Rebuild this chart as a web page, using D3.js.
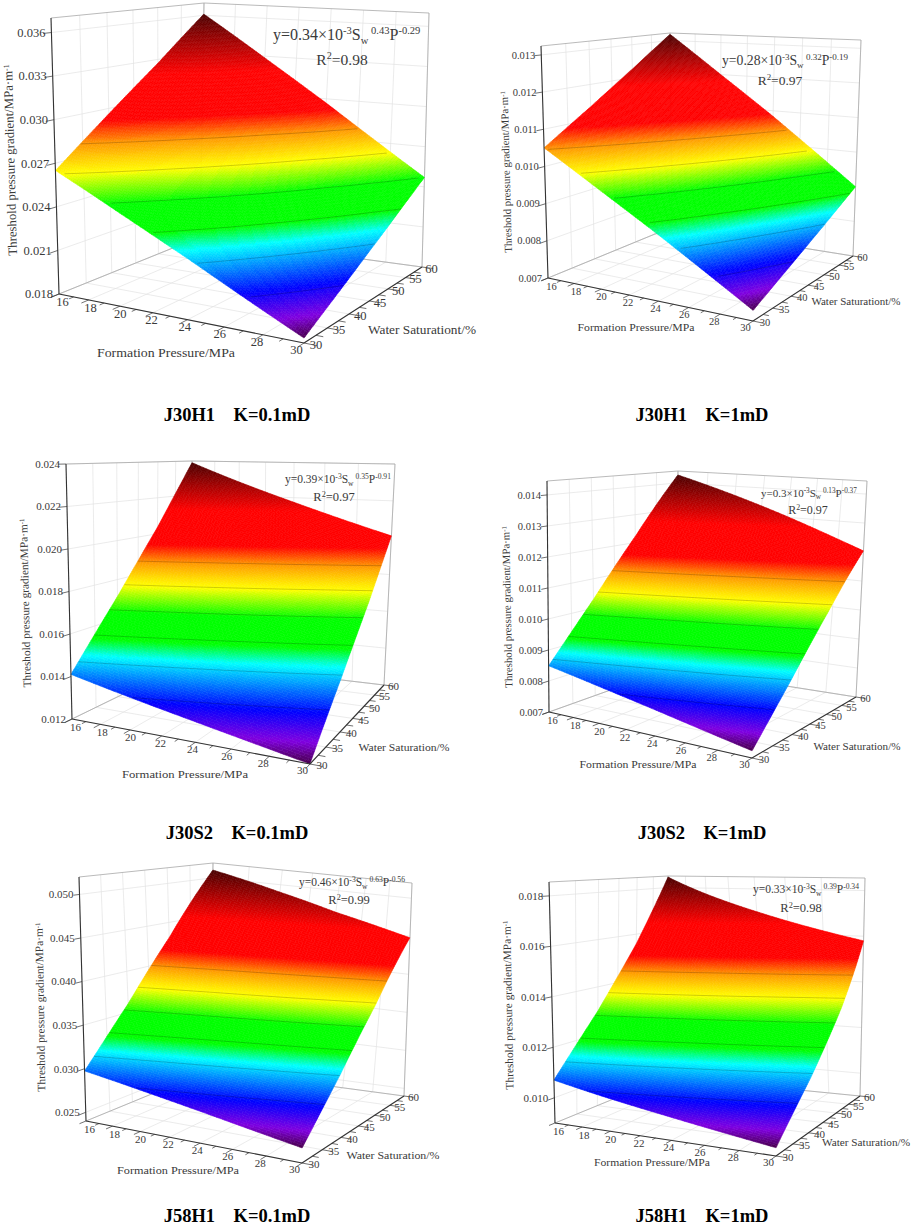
<!DOCTYPE html>
<html><head><meta charset="utf-8">
<script src="https://cdn.jsdelivr.net/npm/d3@7/dist/d3.min.js"></script>
<style>
html,body{margin:0;padding:0;background:#fff}
text{font-family:"Liberation Serif","Times New Roman",serif;fill:#3a3a3a}
.cap{font-weight:bold;fill:#000}
</style></head><body><svg id="c" width="913" height="1225"></svg>
<script>
// ---------- data ----------
const pressureSamples=[16,20,24,30];
const saturationSamples=[30,40,50,60];
const pressureTicks=[16,18,20,22,24,26,28,30];
const saturationTicks=[30,35,40,45,50,55,60];

const surfaceJ30H1_01=[[.0265,.02416,.02187,.0183],[.0296,.02696,.02437,.02035],[.0327,.02978,.02691,.02246],[.0361,.03285,.02966,.0247]];
const surfaceJ30H1_1 =[[.0105,.00957,.00866,.00725],[.01136,.01035,.00935,.00781],[.01226,.01116,.01007,.00839],[.0132,.0120,.01083,.0090]];
const surfaceJ30S2_01=[[.0141,.0135,.01291,.0120],[.01714,.01639,.01565,.01451],[.02037,.01946,.01857,.01718],[.0239,.02282,.02175,.0201]];
const surfaceJ30S2_1 =[[.00849,.00812,.00776,.0072],[.01029,.00984,.00939,.0087],[.01221,.01167,.01113,.0103],[.0143,.01366,.01302,.01204]];
const surfaceJ58H1_01=[[.02974,.02855,.02738,.02556],[.0360,.0346,.0333,.0312],[.0430,.0414,.0399,.0374],[.05105,.0490,.0471,.0448]];
const surfaceJ58H1_1 =[[.0107,.0103,.00991,.0093],[.0130,.01249,.01199,.01122],[.01558,.01495,.01433,.01336],[.0185,.01773,.01697,.0158]];

const zTicks1=[.018,.021,.024,.027,.030,.033,.036];
const zTicks2=[.007,.008,.009,.010,.011,.012,.013];
const zTicks3=[.012,.014,.016,.018,.020,.022,.024];
const zTicks4=[.007,.008,.009,.010,.011,.012,.013,.014];
const zTicks5=[.025,.030,.035,.040,.045,.050];
const zTicks6=[.010,.012,.014,.016,.018];
const zDomains=[[.018,.0370],[.007,.01324],[.012,.024],[.007,.01445],[.024,.052],[.009,.01855]];

const captions=["J30H1\u00a0\u00a0\u00a0\u00a0K=0.1mD","J30H1\u00a0\u00a0\u00a0\u00a0K=1mD","J30S2\u00a0\u00a0\u00a0\u00a0K=0.1mD","J30S2\u00a0\u00a0\u00a0\u00a0K=1mD","J58H1\u00a0\u00a0\u00a0\u00a0K=0.1mD","J58H1\u00a0\u00a0\u00a0\u00a0K=1mD"];
const eqCoef=["0.34","0.28","0.39","0.3","0.46","0.33"];
const eqSw=["0.43","0.32","0.35","0.13","0.63","0.39"];
const eqP=["-0.29","-0.19","-0.91","-0.37","-0.56","-0.34"];
const r2=["0.98","0.97","0.97","0.97","0.99","0.98"];
const waterTitles=["Water Saturationt/%","Water Saturationt/%","Water Saturation/%","Water Saturation/%","Water Saturation/%","Water Saturation/%"];

// colour map of the surface and contour levels (fraction of the surface's range)
const colorStops=[0,.045,.11,.225,.275,.36,.45,.54,.615,.77,1];
const colorRamp=["#48004a","#8000e0","#0000ff","#00ffff","#00ff00","#00ff00","#ffff00","#ff9900","#ff0000","#ff0000","#4a0000"];
const colorShift=[0,0,.025,.015,.025,.025];
const contourLevels=[.10,.19,.275,.36,.45,.54];

// ---------- layout of each panel (screen frame of the 3-D box) ----------
const panels=[
 {s:surfaceJ30H1_01,t:zTicks1,z:zDomains[0],L:[59,294],F:[304,343],R:[422,267],B:[200,237],Lt:[51,18],Ft:[307,30],Rt:[429,13],Bt:[204,3],
  fs:12.5,eq:[273,40,16,150],r:[342,65,15.5],cap:[237,421],xt:[166,353,138],wt:[422,330,108],yt:[10,160,183,-91.5]},
 {s:surfaceJ30H1_1,t:zTicks2,z:zDomains[1],L:[548,278],F:[753,321],R:[853,256],B:[672,227],Lt:[541,46],Ft:[756,56],Rt:[861,40],Bt:[670,33],
  fs:10.5,eq:[722,65,13.7,127],r:[780,85,13.5],cap:[702,421],xt:[636,327,117],wt:[856,301,89],yt:[506,172,163,-91.5]},
 {s:surfaceJ30S2_01,t:zTicks3,z:zDomains[2],L:[72,719],F:[310,764],R:[384,685],B:[189,662],Lt:[66,464],Ft:[313,470],Rt:[395,464],Bt:[192,461],
  fs:11,eq:[285,483,11.5,108],r:[334,501,12.5],cap:[237,839],xt:[185,774,126],wt:[404,747,91],yt:[25,603,173,-91.3]},
 {s:surfaceJ30S2_1,t:zTicks4,z:zDomains[3],L:[549,712],F:[752,758],R:[856,697],B:[672,668],Lt:[547,481],Ft:[755,490],Rt:[867,481],Bt:[678,471],
  fs:10.5,eq:[761,497,11,98],r:[808,514,12],cap:[702,839],xt:[638,764,117],wt:[857,746,87],yt:[507,607,162,-91.2]},
 {s:surfaceJ58H1_01,t:zTicks5,z:zDomains[4],L:[86,1121],F:[302,1163],R:[404,1096],B:[210,1070],Lt:[79,877],Ft:[305,893],Rt:[412,883],Bt:[213,863],
  fs:11,eq:[299,886,11.5,108],r:[349,904,12.5],cap:[237,1222],xt:[178,1170,122],wt:[393,1155,93],yt:[40,1007,172,-90.9]},
 {s:surfaceJ58H1_1,t:zTicks6,z:zDomains[5],L:[555,1123],F:[776,1156],R:[860,1096],B:[667,1077],Lt:[549,882],Ft:[779,895],Rt:[865,878],Bt:[668,876],
  fs:11,eq:[753,893,11.5,105],r:[801,912,12.5],cap:[702,1222],xt:[652,1162,116],wt:[866,1142,88],yt:[508,1005,170,-91.1]}
];

// projective map of the unit square onto a quad
function quadMap(p00,p10,p11,p01){
  const dx1=p10[0]-p11[0],dx2=p01[0]-p11[0],sx=p00[0]-p10[0]+p11[0]-p01[0];
  const dy1=p10[1]-p11[1],dy2=p01[1]-p11[1],sy=p00[1]-p10[1]+p11[1]-p01[1];
  const d=dx1*dy2-dx2*dy1,g=(sx*dy2-dx2*sy)/d,h=(dx1*sy-sx*dy1)/d;
  const a=p10[0]-p00[0]+g*p10[0],b=p01[0]-p00[0]+h*p01[0],c=p00[0];
  const e=p10[1]-p00[1]+g*p10[1],f=p01[1]-p00[1]+h*p01[1],k=p00[1];
  return (u,v)=>{const w=g*u+h*v+1;return [(a*u+b*v+c)/w,(e*u+f*v+k)/w];};
}
const svg=d3.select("#c");
const uS=d3.scaleLinear().domain([16,30]).range([0,1]);
const vS=d3.scaleLinear().domain([30,60]).range([0,1]);
const colorOf=d3.scaleLinear().domain(colorStops).range(colorRamp).clamp(true);
const line=d3.line();

panels.forEach((p,i)=>{
  const g=svg.append("g");
  const floor=quadMap(p.L,p.F,p.R,p.B), top=quadMap(p.Lt,p.Ft,p.Rt,p.Bt);
  const zS=d3.scaleLinear().domain(p.z).range([0,1]);
  const proj=(P,S,z)=>{const u=uS(P),v=vS(S),a=floor(u,v),b=top(u,v),t=zS(z);return [a[0]+(b[0]-a[0])*t,a[1]+(b[1]-a[1])*t];};
  const [z0,z1]=p.z;
  const seg=(a,b,col,w)=>g.append("path").attr("d",line([a,b])).attr("fill","none").attr("stroke",col).attr("stroke-width",w);
  // grid
  const gc="#e3e3e3";
  pressureTicks.forEach(P=>{seg(proj(P,30,z0),proj(P,60,z0),gc,.7);seg(proj(P,60,z0),proj(P,60,z1),gc,.7);});
  saturationTicks.forEach(S=>{seg(proj(16,S,z0),proj(30,S,z0),gc,.7);seg(proj(16,S,z0),proj(16,S,z1),gc,.7);});
  p.t.forEach(z=>{seg(proj(16,30,z),proj(16,60,z),gc,.7);seg(proj(16,60,z),proj(30,60,z),gc,.7);});
  // frame
  const fc="#a8a8a8";
  seg(proj(16,30,z0),proj(16,60,z0),fc,.8);seg(proj(16,60,z0),proj(30,60,z0),fc,.8);
  seg(proj(16,60,z0),proj(16,60,z1),fc,.8);seg(proj(30,60,z0),proj(30,60,z1),fc,.8);
  seg(proj(16,30,z1),proj(16,60,z1),fc,.8);seg(proj(16,60,z1),proj(30,60,z1),fc,.8);
  // surface
  const rowAt=d3.range(saturationSamples.length).map(j=>d3.scaleLinear().domain(pressureSamples).range(p.s[j]));
  const colAt=P=>rowAt.map(r=>r(P));
  const flat=p.s.flat(),mn=d3.min(flat),mx=d3.max(flat);
  const nS=d3.scaleLinear().domain([mn,mx]).range([0,1]);
  const N=110,cells=[];
  const pS=d3.scaleLinear().domain([0,N]).range([16,30]),sS=d3.scaleLinear().domain([0,N]).range([30,60]);
  for(let a=0;a<N;a++){
    const c0=d3.scaleLinear().domain(saturationSamples).range(colAt(pS(a))),c1=d3.scaleLinear().domain(saturationSamples).range(colAt(pS(a+1)));
    for(let b=0;b<N;b++){
      const Pa=pS(a),Pb=pS(a+1),Sa=sS(b),Sb=sS(b+1);
      const zm=(c0(Sa)+c0(Sb)+c1(Sa)+c1(Sb))/4;
      cells.push({n:Math.round(nS(zm)*240),q:[proj(Pa,Sa,c0(Sa)),proj(Pb,Sa,c1(Sa)),proj(Pb,Sb,c1(Sb)),proj(Pa,Sb,c0(Sb))]});
    }
  }
  const shade=n=>colorOf(n-colorShift[i]*(1-Math.abs(2*n-1)));
  const buckets=d3.rollups(cells,v=>v.map(c=>line(c.q)+"Z").join(""),c=>c.n).sort((a,b)=>a[0]-b[0]);
  g.selectAll("path.cell").data(buckets).join("path").attr("class","cell").attr("d",d=>d[1])
    .attr("fill",d=>shade(d[0]/240)).attr("stroke",d=>shade(d[0]/240)).attr("stroke-width",.5);
  // contour lines
  contourLevels.forEach(lv=>{
    const z=nS.invert(lv+colorShift[i]),pts=[];
    d3.range(0,61).forEach(k=>{
      const P=16+k*14/60,col=colAt(P);
      if(z<col[0]||z>col[col.length-1])return;
      const S=d3.scaleLinear().domain(col).range(saturationSamples)(z);
      pts.push(proj(P,S,z));
    });
    if(pts.length>1)g.append("path").attr("d",line(pts)).attr("fill","none").attr("stroke","#000").attr("stroke-opacity",.32).attr("stroke-width",.6);
  });
  // axes
  const ac="#333";
  seg(proj(16,30,z0),proj(16,30,z1),ac,1.1);
  seg(proj(16,30,z0),proj(30,30,z0),ac,1.1);
  seg(proj(30,30,z0),proj(30,60,z0),ac,1.1);
  // ticks
  d3.range(16,30.5,1).forEach(P=>seg(proj(P,30,z0),proj(P,P%2?29.2:28.7,z0),ac,.7));
  d3.range(30,60.5,2.5).forEach(S=>seg(proj(30,S,z0),proj(S%5?30.35:30.6,S,z0),ac,.7));
  p.t.forEach(z=>seg(proj(16,30,z),proj(16,28.6,z),ac,.7));
  // tick labels
  const dxP=d3.scaleLinear().domain([16,30]).range([3.5,-7.5]),dyP=d3.scaleLinear().domain([16,30]).range([8,6.5]);
  g.selectAll("text.pt").data(pressureTicks).join("text").attr("class","pt").attr("font-size",p.fs).attr("text-anchor","middle").attr("dy",".35em")
    .attr("x",P=>proj(P,30,z0)[0]+dxP(P)).attr("y",P=>proj(P,30,z0)[1]+dyP(P)).text(d=>d);
  const dxS=d3.scaleLinear().domain([30,60]).range([12,9.5]);
  g.selectAll("text.st").data(saturationTicks).join("text").attr("class","st").attr("font-size",p.fs).attr("text-anchor","middle").attr("dy",".35em")
    .attr("x",S=>proj(30,S,z0)[0]+dxS(S)).attr("y",S=>proj(30,S,z0)[1]+1.5).text(d=>d);
  g.selectAll("text.zt").data(p.t).join("text").attr("class","zt").attr("font-size",p.fs).attr("text-anchor","end").attr("dy",".35em")
    .attr("x",z=>proj(16,30,z)[0]-6).attr("y",z=>proj(16,30,z)[1]).text(d=>d3.format(".3f")(d));
  // axis titles
  const fit=(sel,len)=>sel.attr("textLength",len).attr("lengthAdjust","spacingAndGlyphs");
  fit(g.append("text").attr("x",p.xt[0]).attr("y",p.xt[1]).attr("dy",".35em").attr("text-anchor","middle").attr("font-size",p.fs+.3).text("Formation Pressure/MPa"),p.xt[2]);
  fit(g.append("text").attr("x",p.wt[0]).attr("y",p.wt[1]).attr("dy",".35em").attr("text-anchor","middle").attr("font-size",p.fs+.3).text(waterTitles[i]),p.wt[2]);
  const yt=g.append("text").attr("transform",`translate(${p.yt[0]},${p.yt[1]}) rotate(${p.yt[3]})`).attr("dy",".35em").attr("text-anchor","middle").attr("font-size",p.fs+.3);
  yt.append("tspan").text("Threshold pressure gradient/MPa·m");
  yt.append("tspan").attr("dy","-.4em").attr("font-size",(p.fs+.3)*.62).text("-1");
  // equation
  const eq=g.append("text").attr("x",p.eq[0]).attr("y",p.eq[1]).attr("font-size",p.eq[2]);
  const sup=p.eq[2]*.66;
  const part=(t,dy,fs)=>{const s=eq.append("tspan").text(t);if(dy)s.attr("dy",dy);if(fs)s.attr("font-size",fs);};
  const up=-p.eq[2]*.36,dn=p.eq[2]*.22;
  part("y="+eqCoef[i]+"×10");part("-3",up,sup);part("S",-up);part("w",dn,sup);
  part("\u00a0"+eqSw[i],up-dn,sup);part("P",-up);part(eqP[i],up,sup);
  const r=g.append("text").attr("x",p.r[0]).attr("y",p.r[1]).attr("text-anchor","middle").attr("font-size",p.r[2]);
  r.append("tspan").text("R");r.append("tspan").attr("dy",-p.r[2]*.36).attr("font-size",p.r[2]*.66).text("2");
  r.append("tspan").attr("dy",p.r[2]*.36).text("="+r2[i]);
  // caption
  g.append("text").attr("class","cap").attr("x",p.cap[0]).attr("y",p.cap[1]).attr("text-anchor","middle").attr("font-size",18.5).text(captions[i]);
});
</script></body></html>
